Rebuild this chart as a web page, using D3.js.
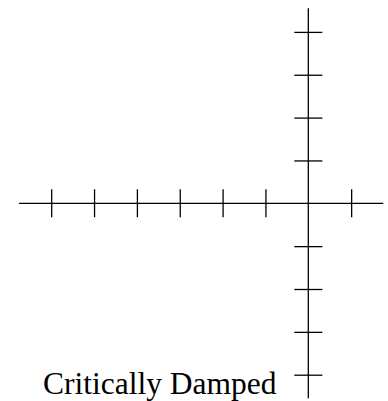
<!DOCTYPE html>
<html>
<head>
<meta charset="utf-8">
<script src="https://cdn.jsdelivr.net/npm/d3@7"></script>
<style>
  html, body { margin: 0; padding: 0; background: #fff; }
  svg { display: block; }
</style>
</head>
<body>
<script>
// Axis ranges and tick positions (in plot units)
const xExtent = [-6.75, 1.75];
const yExtent = [-4.55, 4.55];
const xTicks = [-6, -5, -4, -3, -2, -1, 1];
const yTicks = [-4, -3, -2, -1, 1, 2, 3, 4];
const label = "Critically Damped";

const W = 388, H = 401;
const ox = 308.3, oy = 203.3, unit = 42.85;

const x = d3.scaleLinear().domain([0, 1]).range([ox, ox + unit]);
const y = d3.scaleLinear().domain([0, 1]).range([oy, oy - unit]);

const svg = d3.select("body").append("svg")
  .attr("width", W).attr("height", H);

const tickHalf = 14;
const stroke = "#000";
const sw = 1.3;

// Horizontal axis line
svg.append("line")
  .attr("x1", x(xExtent[0])).attr("x2", x(xExtent[1]))
  .attr("y1", y(0)).attr("y2", y(0))
  .attr("stroke", stroke).attr("stroke-width", sw);

// Vertical axis line
svg.append("line")
  .attr("x1", x(0)).attr("x2", x(0))
  .attr("y1", y(yExtent[1])).attr("y2", y(yExtent[0]))
  .attr("stroke", stroke).attr("stroke-width", sw);

// Ticks crossing the horizontal axis
const xAxis = d3.axisBottom(x)
  .tickValues(xTicks)
  .tickSizeInner(2 * tickHalf)
  .tickSizeOuter(0)
  .tickFormat("");
const gx = svg.append("g")
  .attr("transform", `translate(0,${y(0) - tickHalf})`)
  .call(xAxis);
gx.select(".domain").remove();
gx.selectAll(".tick line").attr("stroke", stroke).attr("stroke-width", sw);

// Ticks crossing the vertical axis
const yAxis = d3.axisRight(y)
  .tickValues(yTicks)
  .tickSizeInner(2 * tickHalf)
  .tickSizeOuter(0)
  .tickFormat("");
const gy = svg.append("g")
  .attr("transform", `translate(${x(0) - tickHalf},0)`)
  .call(yAxis);
gy.select(".domain").remove();
gy.selectAll(".tick line").attr("stroke", stroke).attr("stroke-width", sw);

// Caption
svg.append("text")
  .attr("x", 43)
  .attr("y", 394)
  .attr("font-family", "'Liberation Serif', 'Times New Roman', serif")
  .attr("font-size", 31.5)
  .attr("fill", "#000")
  .text(label);
</script>
</body>
</html>
